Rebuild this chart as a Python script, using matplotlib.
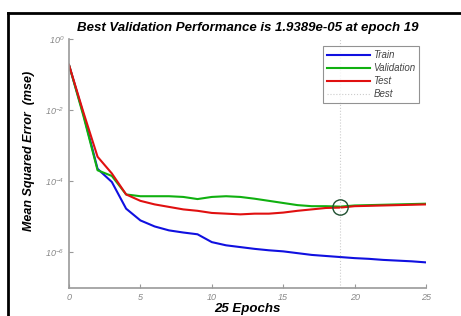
import numpy as np
import matplotlib.pyplot as plt
from matplotlib.lines import Line2D

plt.rcParams['font.family'] = ['Liberation Sans', 'DejaVu Sans']

epochs = np.arange(0, 26)
# log10 of mse
train_log = [-0.73, -2.1, -3.65, -4.02, -4.77, -5.1, -5.27, -5.38, -5.44, -5.49, -5.71,
             -5.80, -5.85, -5.90, -5.94, -5.97, -6.02, -6.07, -6.10, -6.13, -6.16,
             -6.18, -6.21, -6.23, -6.25, -6.28]
val_log = [-0.73, -2.15, -3.69, -3.85, -4.37, -4.42, -4.42, -4.42, -4.44, -4.50, -4.44,
           -4.42, -4.44, -4.49, -4.55, -4.61, -4.67, -4.70, -4.70, -4.712, -4.68,
           -4.67, -4.66, -4.65, -4.64, -4.63]
test_log = [-0.73, -2.05, -3.31, -3.78, -4.37, -4.55, -4.65, -4.72, -4.79, -4.83, -4.89,
            -4.91, -4.93, -4.91, -4.91, -4.88, -4.83, -4.79, -4.75, -4.74, -4.70,
            -4.69, -4.68, -4.67, -4.66, -4.65]
best_epoch = 19
best_perf = 1.9389e-05

train = 10 ** np.array(train_log)
val = 10 ** np.array(val_log)
test = 10 ** np.array(test_log)

fig = plt.figure(figsize=(4.61, 3.16), dpi=100)
ax = fig.add_axes([0.1497, 0.0886, 0.7743, 0.788])

ax.semilogy(epochs, train, color='#1010e0', lw=1.5, label='Train')
ax.semilogy(epochs, val, color='#10b010', lw=1.5, label='Validation')
ax.semilogy(epochs, test, color='#e01010', lw=1.5, label='Test')
ax.axvline(best_epoch, color='#cccccc', lw=0.8, ls=':', label='Best')
ax.plot([best_epoch], [best_perf], 'o', ms=11, mfc='none', mec='#205030', mew=1.0)

ax.set_xlim(0, 25)
ax.set_ylim(1e-7, 1e0)
ax.set_xticks([0, 5, 10, 15, 20, 25])
ax.set_yticks([1e0, 1e-2, 1e-4, 1e-6])
ax.minorticks_off()

for s in ['top', 'right']:
    ax.spines[s].set_visible(False)
for s in ['left', 'bottom']:
    ax.spines[s].set_color('#999999')
    ax.spines[s].set_linewidth(1.2)
ax.tick_params(direction='in', length=3, color='#999999', labelcolor='#888888',
               labelsize=6.5)
for lab in ax.get_xticklabels() + ax.get_yticklabels():
    lab.set_fontstyle('italic')

ax.set_title('Best Validation Performance is 1.9389e-05 at epoch 19',
             fontsize=9.5, fontweight='bold', fontstyle='italic', pad=6)
ax.set_xlabel('25 Epochs', fontsize=9.5, fontweight='bold', fontstyle='italic', labelpad=1)
ax.set_ylabel('Mean Squared Error  (mse)', fontsize=9, fontweight='bold',
              fontstyle='italic')
ax.yaxis.set_label_coords(-0.095, 0.55)

leg = ax.legend(loc='upper right', bbox_to_anchor=(0.995, 0.99), fontsize=7,
                frameon=True, fancybox=False, edgecolor='#777777',
                handlelength=4.5, handletextpad=0.3, borderpad=0.4,
                labelspacing=0.3)
leg.get_frame().set_linewidth(0.8)
for t in leg.get_texts():
    t.set_fontstyle('italic')
    t.set_color('#444444')

# black frame lines at top and left of the picture
fig.add_artist(Line2D([8 / 461, 1], [1 - 12.5 / 316] * 2, color='black', lw=2))
fig.add_artist(Line2D([8 / 461] * 2, [0, 1 - 12.5 / 316], color='black', lw=2))

fig.savefig('out.png', dpi=100)
